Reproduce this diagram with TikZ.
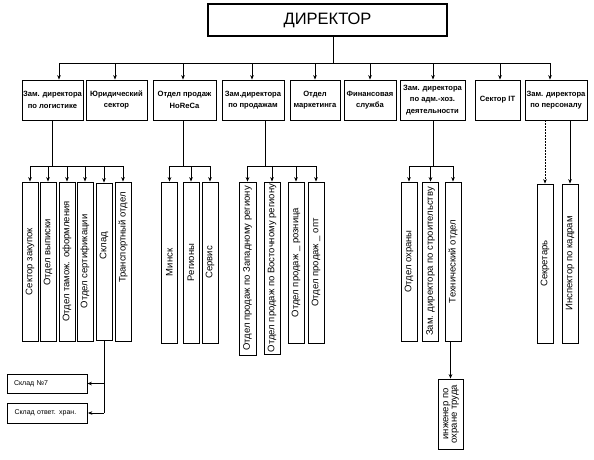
\documentclass[tikz,border=0pt]{standalone}
\usepackage{fontspec}
\setmainfont{Liberation Sans}
\usepackage{graphicx}
\usetikzlibrary{arrows.meta}
\tikzset{
	shema/.style={x=1pt, y=-1pt, >={Stealth[length=4.5pt,width=3.6pt]}},
	glavnyj/.style={draw, line width=1.6pt, minimum width=239pt, minimum height=32pt,
	                inner sep=0pt, font=\fontsize{16.5}{19}\selectfont},
	blok/.style={draw, line width=0.8pt, align=center, inner sep=1pt, minimum height=40pt,
	             font=\bfseries\fontsize{7.6}{11.5}\selectfont},
	otdel/.style={draw, line width=0.8pt, inner sep=0pt, minimum width=16pt,
	              font=\fontsize{9.5}{10.5}\selectfont},
	sklad/.style={draw, line width=0.8pt, align=left, text width=66pt, inner xsep=7pt,
	              inner ysep=0pt, font=\fontsize{7}{8}\selectfont},
	tok/.style={->, line width=1pt},
	liniya/.style={line width=1pt},
	punktir/.style={dash pattern=on 1.5pt off 1.5pt},
}

\begin{document}
\begin{tikzpicture}[shema]
\useasboundingbox (0,0) rectangle (594,459);

% ---------- директор ----------
\node[glavnyj] (dir) at (327.5,20) {ДИРЕКТОР};

% ---------- заместители и отделы ----------
\node[blok, minimum width=61pt] (zam1) at (52.5,100)  {Зам. директора\\по логистике};
\node[blok, minimum width=61pt] (zam2) at (116.5,100) {Юридический\\сектор};
\node[blok, minimum width=63pt] (zam3) at (184.5,100) {Отдел продаж\\HoReCa};
\node[blok, minimum width=62pt] (zam4) at (253,100)   {Зам.директора\\по продажам};
\node[blok, minimum width=50pt] (zam5) at (315,100)   {Отдел\\маркетинга};
\node[blok, minimum width=52pt] (zam6) at (370,100)   {Финансовая\\служба};
\node[blok, minimum width=65pt] (zam7) at (432.5,100) {Зам. директора\\по адм.-хоз.\\деятельности};
\node[blok, minimum width=45pt] (zam8) at (497.5,100) {Сектор IT};
\node[blok, minimum width=62pt] (zam9) at (556,100)   {Зам. директора\\по персоналу};

% ---------- логистика ----------
\node[otdel, minimum height=159pt] (zak)   at (30,261.5)  {\rotatebox{90}{Сектор закупок}};
\node[otdel, minimum height=159pt] (vyp)   at (48,261.5)  {\rotatebox{90}{\hspace*{18pt}Отдел выписки}};
\node[otdel, minimum height=159pt] (tam)   at (67,261.5)  {\rotatebox{90}{Отдел тамож. оформления}};
\node[otdel, minimum height=159pt] (sert)  at (85,261.5)  {\rotatebox{90}{Отдел сертификации}};
\node[otdel, minimum height=157pt] (skl)   at (104,261.5) {\rotatebox{90}{\hspace*{32pt}Склад}};
\node[otdel, minimum height=159pt] (trans) at (123,261.5) {\rotatebox{90}{\hspace*{48pt}Транспортный отдел}};

\node[sklad, minimum height=19pt] (sk1) at (47,383.5) {Склад №7};
\node[sklad, minimum height=20pt] (sk2) at (47.5,413) {Склад ответ. хран.};

% ---------- HoReCa ----------
\node[otdel, minimum height=161pt] (minsk) at (169.5,262.5) {\rotatebox{90}{Минск}};
\node[otdel, minimum height=161pt] (reg)   at (191,262.5)   {\rotatebox{90}{Регионы}};
\node[otdel, minimum height=161pt] (serv)  at (210,262.5)   {\rotatebox{90}{Сервис}};

% ---------- продажи ----------
\node[otdel, minimum width=17pt, minimum height=173pt] (zap)  at (247.5,268.5)
    {\rotatebox{90}{Отдел продаж по Западному региону}};
\node[otdel, minimum height=172pt] (vost) at (272,268)
    {\rotatebox{90}{Отдел продаж по Восточному региону}};
\node[otdel, minimum height=161pt] (rozn) at (296,262.5) {\rotatebox{90}{Отдел продаж \_ розница}};
\node[otdel, minimum height=161pt] (opt)  at (316,262.5) {\rotatebox{90}{Отдел продаж \_ опт}};

% ---------- адм.-хоз. ----------
\node[otdel, minimum height=159pt] (ohr)   at (409,261.5)   {\rotatebox{90}{Отдел охраны}};
\node[otdel, minimum height=159pt] (stroi) at (430.5,261.5) {\rotatebox{90}{Зам. директора по строительству}};
\node[otdel, minimum height=159pt] (tech)  at (453,261.5)   {\rotatebox{90}{Технический отдел}};
\node[otdel, minimum width=25pt, minimum height=70pt] (inzh) at (450.5,414)
    {\rotatebox{90}{\begin{tabular}{@{}c@{}}инженер по\\[-2pt] охране труда\end{tabular}}};

% ---------- персонал ----------
\node[otdel, minimum height=159pt] (sekr) at (545,263.5) {\rotatebox{90}{Секретарь}};
\node[otdel, minimum height=159pt] (insp) at (570,263.5) {\rotatebox{90}{Инспектор по кадрам}};

% ---------- связи: первый уровень ----------
\coordinate (shina) at (333,63);
\coordinate (v1) at (59,63);
\coordinate (v2) at (115,63);
\coordinate (v3) at (183,63);
\coordinate (v4) at (252,63);
\coordinate (v5) at (315,63);
\coordinate (v6) at (370,63);
\coordinate (v7) at (433,63);
\coordinate (v8) at (500,63);
\coordinate (v9) at (550,63);
\draw[liniya] (dir.south -| shina) -- (shina);
\draw[liniya] (v1) -- (v9);
\draw[tok] (v1) -- (v1 |- zam1.north);
\draw[tok] (v2) -- (v2 |- zam2.north);
\draw[tok] (v3) -- (v3 |- zam3.north);
\draw[tok] (v4) -- (v4 |- zam4.north);
\draw[tok] (v5) -- (v5 |- zam5.north);
\draw[tok] (v6) -- (v6 |- zam6.north);
\draw[tok] (v7) -- (v7 |- zam7.north);
\draw[tok] (v8) -- (v8 |- zam8.north);
\draw[tok] (v9) -- (v9 |- zam9.north);

% ---------- связи: второй уровень ----------
\coordinate (logshina) at (52.5,166);
\draw[liniya] (zam1.south) -- (logshina);
\draw[liniya] (zak.north |- logshina) -- (trans.north |- logshina);
\draw[tok] (zak.north |- logshina) -- (zak.north);
\draw[tok] (vyp.north |- logshina) -- (vyp.north);
\draw[tok] (tam.north |- logshina) -- (tam.north);
\draw[tok] (sert.north |- logshina) -- (sert.north);
\draw[tok] (skl.north |- logshina) -- (skl.north);
\draw[tok] (trans.north |- logshina) -- (trans.north);

\draw[liniya] (skl.south) -- (skl.south |- sk2.east);
\draw[tok] (skl.south |- sk1.east) -- (sk1.east);
\draw[tok] (skl.south |- sk2.east) -- (sk2.east);

\coordinate (horshina) at (183,166);
\draw[liniya] (zam3.south -| horshina) -- (horshina);
\draw[liniya] (minsk.north |- horshina) -- (serv.north |- horshina);
\draw[tok] (minsk.north |- horshina) -- (minsk.north);
\draw[tok] (reg.north |- horshina) -- (reg.north);
\draw[tok] (serv.north |- horshina) -- (serv.north);

\coordinate (prodshina) at (265,166);
\draw[liniya] (zam4.south -| prodshina) -- (prodshina);
\draw[liniya] (zap.north |- prodshina) -- (opt.north |- prodshina);
\draw[tok] (zap.north |- prodshina) -- (zap.north);
\draw[tok] (vost.north |- prodshina) -- (vost.north);
\draw[tok] (rozn.north |- prodshina) -- (rozn.north);
\draw[tok] (opt.north |- prodshina) -- (opt.north);

\coordinate (admshina) at (433,166);
\draw[liniya] (zam7.south -| admshina) -- (admshina);
\draw[liniya] (ohr.north |- admshina) -- (tech.north |- admshina);
\draw[tok] (ohr.north |- admshina) -- (ohr.north);
\draw[tok] (stroi.north |- admshina) -- (stroi.north);
\draw[tok] (tech.north |- admshina) -- (tech.north);
\draw[tok] (inzh.north |- tech.south) -- (inzh.north);

\draw[tok, punktir] (zam9.south -| sekr.north) -- (sekr.north);
\draw[tok] (zam9.south -| insp.north) -- (insp.north);

\end{tikzpicture}
\end{document}
